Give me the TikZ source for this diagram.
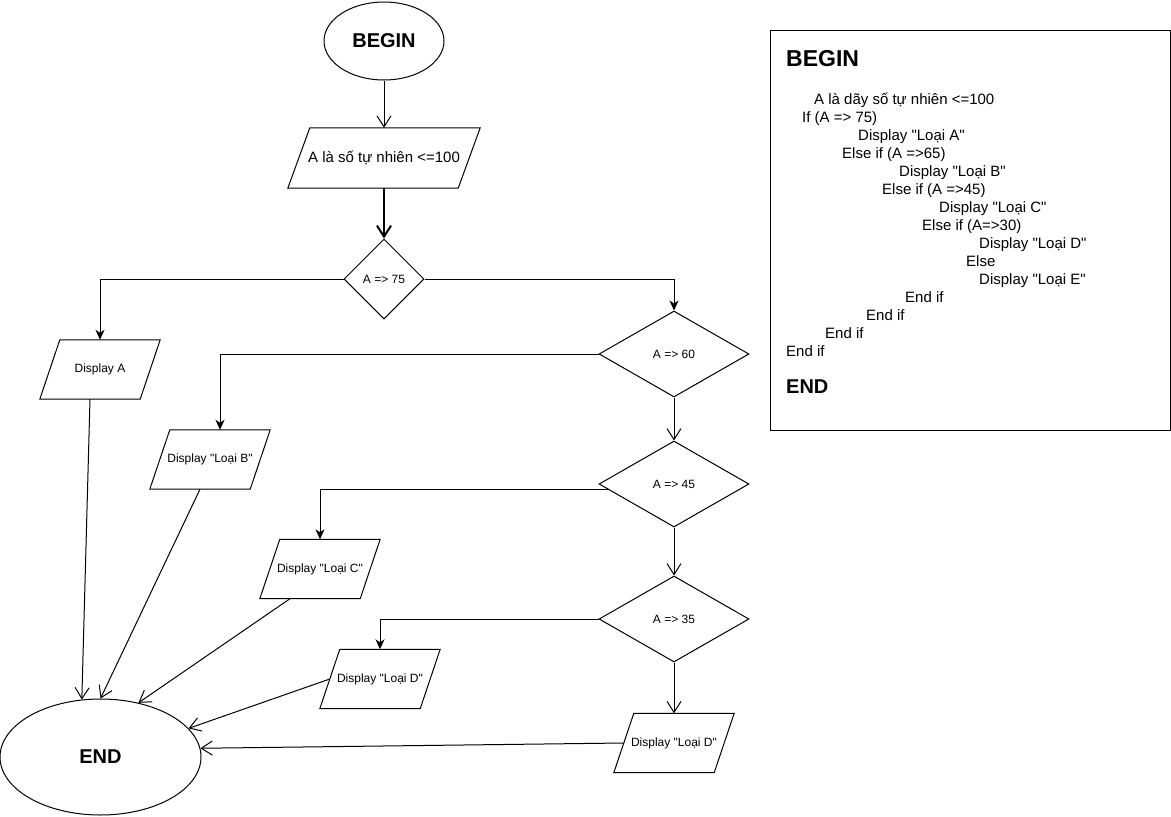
\documentclass[tikz,border=0pt]{standalone}
\usepackage{fontspec}
\setmainfont{Liberation Sans}[Ligatures=TeXOff]
\usetikzlibrary{shapes.geometric,arrows.meta,calc}

\tikzset{
  terminal/.style={ellipse, draw, line width=1pt, inner sep=0pt, font=\bfseries\fontsize{20}{24}\selectfont},
  decision/.style={diamond, draw, line width=1pt, inner sep=0pt, minimum width=150pt, minimum height=86pt, font=\fontsize{12}{14}\selectfont},
  iobox/.style={rectangle, inner sep=0pt, minimum width=100pt, minimum height=59pt, font=\fontsize{12}{14}\selectfont},
  openarr/.style={line width=1pt, -{Straight Barb[length=11pt,width=14pt]}},
  fillarr/.style={line width=1pt, -{Stealth[length=10pt,width=9pt,inset=3pt]}},
  codeline/.style={anchor=base west, inner sep=0pt, font=\fontsize{15}{18}\selectfont},
  codehead/.style={anchor=base west, inner sep=0pt, font=\bfseries\fontsize{20}{24}\selectfont}
}
% slanted outline round a rectangle node: #1 node, #2 half of the slant
\newcommand{\ioshape}[2]{%
  \draw[line width=1pt] ([xshift=#2]#1.north west) -- ([xshift=#2]#1.north east)
    -- ([xshift=-#2]#1.south east) -- ([xshift=-#2]#1.south west) -- cycle;}

\begin{document}
\begin{tikzpicture}[x=1pt,y=-1pt]
  \useasboundingbox (0,0) rectangle (1171,817);

  % flow chart
  \node[terminal, minimum width=120pt, minimum height=78pt] (begin) at (384,41) {BEGIN};
  \node[iobox, minimum width=170pt, minimum height=60pt, font=\fontsize{15}{18}\selectfont] (input) at (384,158) {A là số tự nhiên <=100};
  \node[decision, minimum width=80pt, minimum height=80pt] (d75) at (384,279) {A => 75};
  \node[decision] (d60) at (674,354) {A => 60};
  \node[decision] (d45) at (674,484) {A => 45};
  \node[decision] (d35) at (674,619) {A => 35};
  \node[iobox] (dispA) at (100,369.5) {Display A};
  \node[iobox] (dispB) at (210,459.5) {Display "Loại B"};
  \node[iobox] (dispC) at (320,569) {Display "Loại C"};
  \node[iobox] (dispD) at (380,679) {Display "Loại D"};
  \node[iobox] (dispE) at (674,743) {Display "Loại D"};
  \node[terminal, minimum width=201pt, minimum height=116pt] (stop) at (100.5,757) {END};

  \ioshape{input}{11pt}
  \foreach \n in {dispA,dispB,dispC,dispD,dispE}{
    \ioshape{\n}{10pt}
  }

  \draw[openarr] (begin) -- (input);
  \draw[openarr, line width=2pt] (input) -- (d75);
  \draw[fillarr] (d75.west) -| (dispA.north);
  \draw[fillarr] (d75.east) -| (d60.north);
  \draw[fillarr] (d60.west) -| ([xshift=10pt]dispB.north);
  \draw[openarr] (d60) -- (d45);
  \draw[fillarr] ($(d45.west)!0.12!(d45.south)$) -| (dispC.north);
  \draw[openarr] (d45) -- (d35);
  \draw[fillarr] (d35.west) -| (dispD.north);
  \draw[openarr] (d35) -- (dispE);

  \draw[openarr] ([xshift=-10pt]dispA.south) -- (stop.108);
  \draw[openarr] ([xshift=-10pt]dispB.south) -- (stop.90);
  \draw[openarr] ([xshift=-30pt]dispC.south) -- (stop.55);
  \draw[openarr] (dispD.west) -- (stop.18);
  \draw[openarr] (dispE.west) -- (stop.5);

  % pseudo code
  \node[draw, line width=1pt, minimum width=400pt, minimum height=400pt, inner sep=0pt] (code) at (970,230) {};
  \node[codehead, font=\bfseries\fontsize{23}{27}\selectfont] (codebegin) at (786,66) {BEGIN};
  \foreach \x/\y/\t [count=\i] in {
      814/104/{A là dãy số tự nhiên <=100},
      802/122/{If (A => 75)},
      858/140/{Display "Loại A"},
      842/158/{Else if (A =>65)},
      899/176/{Display "Loại B"},
      882/194/{Else if (A =>45)},
      939/212/{Display "Loại C"},
      922/230/{Else if (A=>30)},
      979/248/{Display "Loại D"},
      966/266/{Else},
      979/284/{Display "Loại E"},
      905/302/{End if},
      866/320/{End if},
      825/338/{End if},
      786/356/{End if}}
    \node[codeline] (line\i) at (\x,\y) {\t};
  \node[codehead] (codeend) at (786,393) {END};
\end{tikzpicture}
\end{document}
